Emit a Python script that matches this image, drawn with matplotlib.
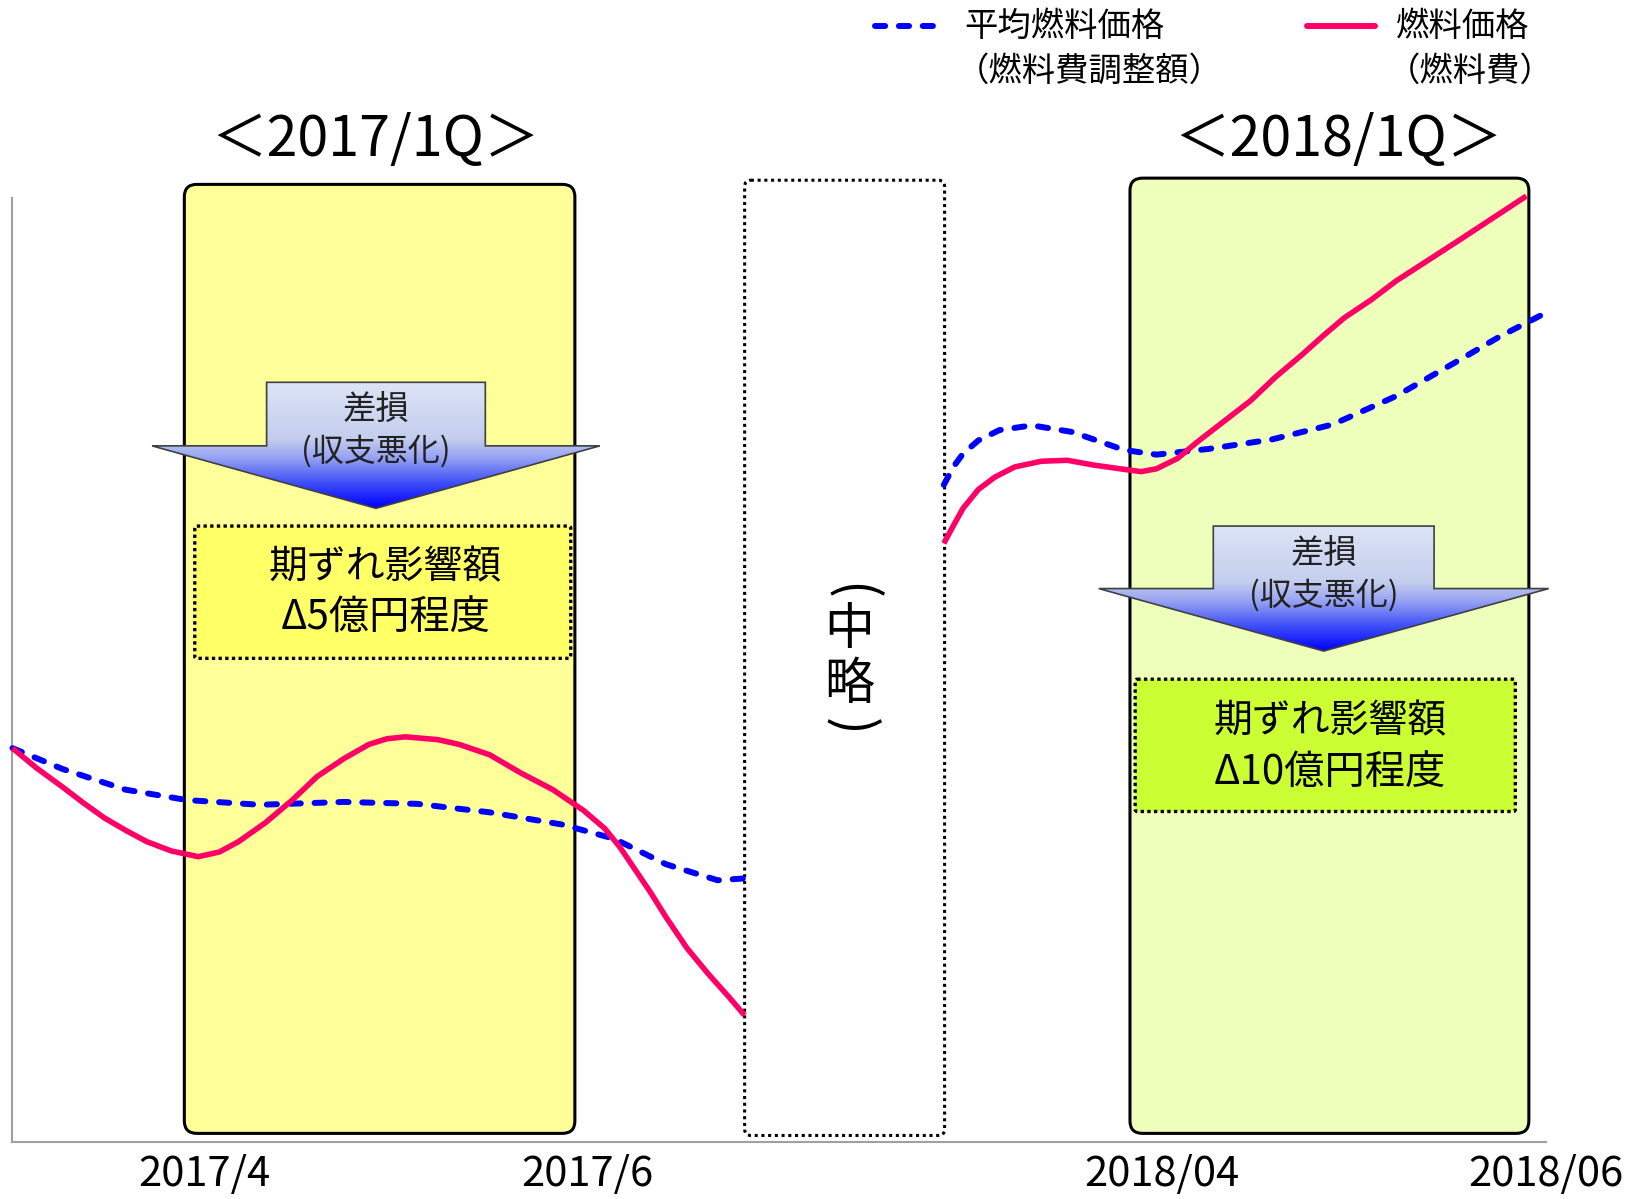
import numpy as np
import matplotlib.pyplot as plt
from matplotlib.patches import FancyBboxPatch, Polygon
from matplotlib.colors import LinearSegmentedColormap

plt.rcParams['font.family'] = ['Noto Sans CJK JP', 'DejaVu Sans']

# x axis: months counted from 2017/3 (=0); the 2017 part runs to ~3.8,
# the 2018 part starts at ~4.86 (2018/03 = 5 ... 2018/06 = 8). y is an index.
x_fuel_17 = [0.0, 0.125, 0.26, 0.37, 0.48, 0.59, 0.70, 0.83, 0.97, 1.08, 1.18, 1.32, 1.46,
             1.59, 1.73, 1.86, 1.955, 2.05, 2.22, 2.33, 2.49, 2.65, 2.82, 2.98, 3.09, 3.17,
             3.25, 3.33, 3.41, 3.52, 3.63, 3.74, 3.82]
y_fuel_17 = [41.7, 39.6, 37.6, 35.9, 34.3, 33.0, 31.8, 30.8, 30.2, 30.7, 31.8, 33.8, 36.2,
             38.7, 40.6, 42.1, 42.7, 42.9, 42.6, 42.1, 41.0, 39.1, 37.3, 35.1, 33.2, 31.2,
             28.8, 26.4, 23.8, 20.5, 17.8, 15.3, 13.4]
x_avg_17 = [0.0, 0.26, 0.59, 0.91, 1.29, 1.73, 2.11, 2.49, 2.87, 3.14, 3.41, 3.68, 3.82]
y_avg_17 = [41.7, 39.5, 37.3, 36.2, 35.7, 36.0, 35.8, 34.9, 33.6, 32.1, 29.4, 27.7, 27.9]

x_fuel_18 = [4.86, 4.908, 4.96, 5.04, 5.125, 5.23, 5.37, 5.505, 5.64, 5.78, 5.89, 5.97, 6.08,
             6.18, 6.32, 6.46, 6.59, 6.73, 6.84, 6.95, 7.09, 7.22, 7.38, 7.54, 7.72, 7.90]
y_fuel_18 = [63.4, 65.2, 67.1, 69.1, 70.4, 71.5, 72.1, 72.2, 71.7, 71.3, 71.0, 71.3, 72.4,
             74.1, 76.3, 78.5, 81.0, 83.4, 85.4, 87.3, 89.2, 91.2, 93.3, 95.4, 97.8, 100.2]
x_avg_18 = [4.86, 4.91, 4.96, 5.04, 5.15, 5.32, 5.53, 5.80, 5.97, 6.24, 6.57, 6.89, 7.22,
            7.54, 7.76, 7.98]
y_avg_18 = [69.6, 71.5, 72.9, 74.3, 75.4, 75.9, 75.2, 73.3, 72.8, 73.4, 74.4, 76.0, 79.0,
            82.7, 85.3, 87.6]

tick_pos = [1, 3, 6, 8]
tick_labels = ['2017/4', '2017/6', '2018/04', '2018/06']
quarter_titles = ['＜2017/1Q＞', '＜2018/1Q＞']
arrow_labels = ['差損', '(収支悪化)']
impact_labels = [['期ずれ影響額', 'Δ5億円程度'], ['期ずれ影響額', 'Δ10億円程度']]
legend_avg = ['平均燃料価格', '（燃料費調整額）']
legend_fuel = ['燃料価格', '（燃料費）']

BLUE = '#0000FF'
RED = '#FF0066'

W, H = 1568, 1151
fig = plt.figure(figsize=(16.33, 11.99), dpi=100)

# layout layer (picture units), behind the data axes
lay = fig.add_axes([0, 0, 1, 1])
lay.set_xlim(0, W)
lay.set_ylim(H, 0)
lay.axis('off')


def rbox(x0, y0, x1, y1, fc, ls='-', r=12, lw=2.2, z=1):
    p = FancyBboxPatch((x0, y0), x1 - x0, y1 - y0,
                       boxstyle=f'round,pad=0,rounding_size={r}',
                       fc=fc, ec='black', lw=lw, ls=ls, zorder=z)
    lay.add_patch(p)


# quarter panels and the "omitted" panel
rbox(177, 177, 552, 1088, '#FFFF99')
rbox(1085, 171, 1468, 1088, '#EEFFBB')
rbox(715, 173, 907, 1090, 'white', ls=(0, (1, 1.2)), r=6)

lay.text(360, 135, quarter_titles[0], fontsize=40, ha='center', va='center')
lay.text(1285, 135, quarter_titles[1], fontsize=40, ha='center', va='center')

# vertical "（中略）"
lay.text(817, 568, '(', fontsize=38, ha='center', va='center', rotation=-90, rotation_mode='anchor')
lay.text(815, 605, '中', fontsize=36, ha='center', va='center')
lay.text(815, 658, '略', fontsize=36, ha='center', va='center')
lay.text(817, 698, ')', fontsize=38, ha='center', va='center', rotation=-90, rotation_mode='anchor')

# gradient arrows
cmap = LinearSegmentedColormap.from_list(
    'arr', [(0, '#DDE5F5'), (0.45, '#C4CEEE'), (0.6, '#98A4F2'), (0.8, '#4050F8'), (1, '#0000FF')])
grad = np.linspace(0, 1, 256).reshape(-1, 1)


def down_arrow(cx, top, wing, tip, half_body, half_wing):
    pts = [(cx - half_body, top), (cx + half_body, top), (cx + half_body, wing),
           (cx + half_wing, wing), (cx, tip), (cx - half_wing, wing), (cx - half_body, wing)]
    poly = Polygon(pts, closed=True, fc='none', ec='#404040', lw=1.2, zorder=3)
    lay.add_patch(poly)
    im = lay.imshow(grad, cmap=cmap, aspect='auto', origin='upper',
                    extent=(cx - half_wing, cx + half_wing, tip, top), zorder=2)
    im.set_clip_path(poly)
    lay.text(cx, top + 26, arrow_labels[0], fontsize=24, ha='center', va='center', color='#222222', zorder=4)
    lay.text(cx, top + 66, arrow_labels[1], fontsize=23, ha='center', va='center', color='#222222', zorder=4)


down_arrow(361, 367, 428, 488, 105, 215)
down_arrow(1271, 505, 565, 625, 106, 216)
lay.set_xlim(0, W)
lay.set_ylim(H, 0)

# impact boxes
rbox(187, 505, 548, 632, '#FFFF66', ls=(0, (1, 1)), r=2, lw=2.4, z=3)
lay.text(370, 545, impact_labels[0][0], fontsize=28, ha='center', va='center', zorder=4)
lay.text(370, 593, impact_labels[0][1], fontsize=29, ha='center', va='center', zorder=4)
rbox(1090, 652, 1455, 779, '#CCFF33', ls=(0, (1, 1)), r=2, lw=2.4, z=3)
lay.text(1277, 692, impact_labels[1][0], fontsize=28, ha='center', va='center', zorder=4)
lay.text(1277, 741, impact_labels[1][1], fontsize=29, ha='center', va='center', zorder=4)

# legend
lay.plot([840, 900], [25, 25], color=BLUE, lw=4.3, ls=(0, (1.7, 2.3)), dash_capstyle='round')
lay.text(926, 25, legend_avg[0], fontsize=24, ha='left', va='center')
lay.text(918, 68, legend_avg[1], fontsize=24, ha='left', va='center')
lay.plot([1255, 1320], [25, 25], color=RED, lw=4.3, solid_capstyle='round')
lay.text(1340, 25, legend_fuel[0], fontsize=24, ha='left', va='center')
lay.text(1332, 68, legend_fuel[1], fontsize=24, ha='left', va='center')

# data axes
ax = fig.add_axes([12 / W, 1 - 1096 / H, 1472 / W, 906 / H])
ax.patch.set_alpha(0)
ax.set_xlim(0, 8)
ax.set_ylim(0, 100)

for xs, ys in [(x_avg_17, y_avg_17), (x_avg_18, y_avg_18)]:
    ax.plot(xs, ys, color=BLUE, lw=4.3, ls=(0, (1.7, 2.3)), dash_capstyle='round',
            solid_joinstyle='round', clip_on=False, zorder=3)
for xs, ys in [(x_fuel_17, y_fuel_17), (x_fuel_18, y_fuel_18)]:
    ax.plot(xs, ys, color=RED, lw=4.0, solid_joinstyle='round', solid_capstyle='butt',
            clip_on=False, zorder=4)

ax.set_xticks(tick_pos)
ax.set_xticklabels(tick_labels)
ax.tick_params(axis='x', length=0, labelsize=30, pad=9)
ax.set_yticks([])
for s in ['top', 'right']:
    ax.spines[s].set_visible(False)
for s in ['left', 'bottom']:
    ax.spines[s].set_color('#A0A0A0')
    ax.spines[s].set_linewidth(1.5)

fig.savefig('out.png', dpi=100)
